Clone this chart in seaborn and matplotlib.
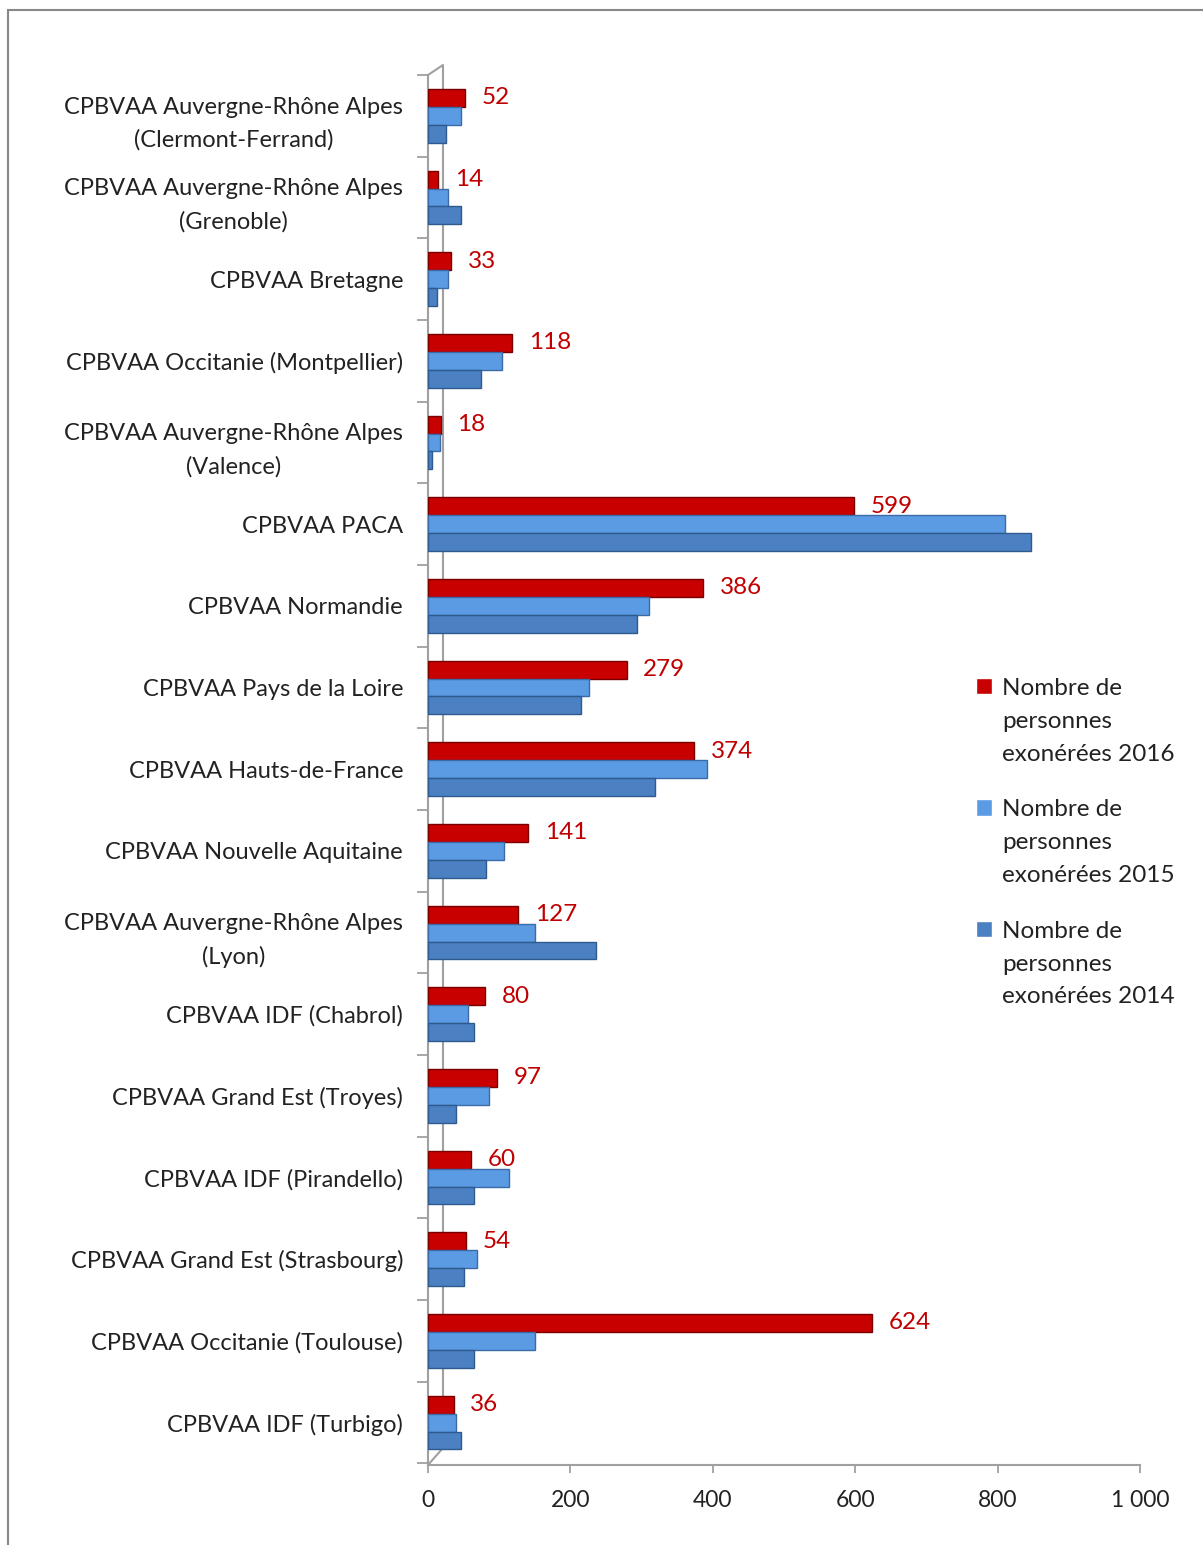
import numpy as np
import pandas as pd
import matplotlib
matplotlib.use("Agg")
import matplotlib.pyplot as plt
import seaborn as sns
from matplotlib.patches import Rectangle
from matplotlib.lines import Line2D

categories = [
    "CPBVAA Auvergne-Rhône Alpes\n(Clermont-Ferrand)",
    "CPBVAA Auvergne-Rhône Alpes\n(Grenoble)",
    "CPBVAA Bretagne",
    "CPBVAA Occitanie (Montpellier)",
    "CPBVAA Auvergne-Rhône Alpes\n(Valence)",
    "CPBVAA PACA",
    "CPBVAA Normandie",
    "CPBVAA Pays de la Loire",
    "CPBVAA Hauts-de-France",
    "CPBVAA Nouvelle Aquitaine",
    "CPBVAA Auvergne-Rhône Alpes\n(Lyon)",
    "CPBVAA IDF (Chabrol)",
    "CPBVAA Grand Est (Troyes)",
    "CPBVAA IDF (Pirandello)",
    "CPBVAA Grand Est (Strasbourg)",
    "CPBVAA Occitanie (Toulouse)",
    "CPBVAA IDF (Turbigo)",
]
values_2016 = [52, 14, 33, 118, 18, 599, 386, 279, 374, 141, 127, 80, 97, 60, 54, 624, 36]
values_2015 = [46, 28, 28, 104, 17, 810, 311, 226, 392, 107, 150, 56, 86, 114, 69, 150, 39]
values_2014 = [25, 46, 12, 74, 6, 847, 294, 215, 319, 81, 236, 65, 39, 65, 50, 65, 46]

series_names = [
    "Nombre de\npersonnes\nexonérées 2016",
    "Nombre de\npersonnes\nexonérées 2015",
    "Nombre de\npersonnes\nexonérées 2014",
]
x_ticks = [0, 200, 400, 600, 800, 1000]
x_tick_labels = ["0", "200", "400", "600", "800", "1 000"]

colors = ["#C80000", "#5B9BE3", "#4B80C2"]
edge_colors = ["#7A0000", "#3A6BA8", "#2F5A8E"]

rows = []
for name, vals in zip(series_names, [values_2016, values_2015, values_2014]):
    for c, v in zip(categories, vals):
        rows.append({"cat": c, "val": v, "serie": name})
df = pd.DataFrame(rows)

sns.set_theme(style="white")
plt.rcParams["font.family"] = ["Lato", "DejaVu Sans"]

W, H = 1203, 1545
fig = plt.figure(figsize=(W / 100, H / 100), dpi=100)
n = len(categories)
ax_left, ax_bottom, ax_w, ax_h = 428 / W, 1 - 1465 / H, (1140 - 428) / W, (1465 - 75) / H
ax = fig.add_axes([ax_left, ax_bottom, ax_w, ax_h])
ax.patch.set_alpha(0)

sns.barplot(data=df, y="cat", x="val", hue="serie", orient="h",
            order=categories, hue_order=series_names,
            palette=colors, saturation=1, width=0.66, ax=ax)
for cont, ec in zip(ax.containers, edge_colors):
    for bar in cont:
        bar.set_edgecolor(ec)
        bar.set_linewidth(1.0)
        bar.set_zorder(3)

ax.bar_label(ax.containers[0], labels=[str(v) for v in values_2016],
             padding=12, color="#C00000", fontsize=17.5)

ax.set_xlim(0, 1000)
ax.set_ylim(n - 0.48, -0.46)
ax.set_xticks(x_ticks)
ax.set_xticklabels(x_tick_labels, fontsize=16.5, color="#222222")
ax.set_yticks(range(n))
ax.set_yticklabels(categories, fontsize=17, color="#222222", multialignment="center",
                   linespacing=1.65)
ax.set_yticks(np.arange(-0.5, n, 1), minor=True)
ax.tick_params(axis="y", which="major", left=False, length=0, pad=18)
ax.tick_params(axis="y", which="minor", left=True, length=8, color="#A0A0A0", width=1.3, direction="out")
ax.tick_params(axis="x", which="major", bottom=True, length=6, color="#A0A0A0", width=1.3, direction="out", pad=12)
ax.set_xlabel("")
ax.set_ylabel("")
for s in ["top", "right"]:
    ax.spines[s].set_visible(False)
for s in ["left", "bottom"]:
    ax.spines[s].set_color("#A0A0A0")
    ax.spines[s].set_linewidth(1.5)

# pseudo-3D back wall
fx = lambda px: px / W
fy = lambda py: 1 - py / H
wall = Line2D([fx(428), fx(443), fx(443), fx(428)],
              [fy(1465), fy(1448), fy(65), fy(75)],
              transform=fig.transFigure, color="#A0A0A0", linewidth=1.5, zorder=-1)
fig.lines.append(wall)

leg = ax.legend(loc="upper left", bbox_to_anchor=(fx(976), fy(678)), bbox_transform=fig.transFigure,
                frameon=False, fontsize=17.5, handlelength=0.65, handleheight=0.65,
                handletextpad=0.42, labelspacing=1.42, borderpad=0, borderaxespad=0)
for t in leg.get_texts():
    t.set_linespacing(1.7)
    t.set_color("#222222")
for vp in leg._legend_handle_box.get_children():
    for hp in vp.get_children():
        hp.align = "top"

fig.patches.append(Rectangle((8 / W, -0.05), 1.1, 1 - 10 / H + 0.05,
                             transform=fig.transFigure, fill=False,
                             edgecolor="#888888", linewidth=1.5))

fig.savefig("out.png", dpi=100)
